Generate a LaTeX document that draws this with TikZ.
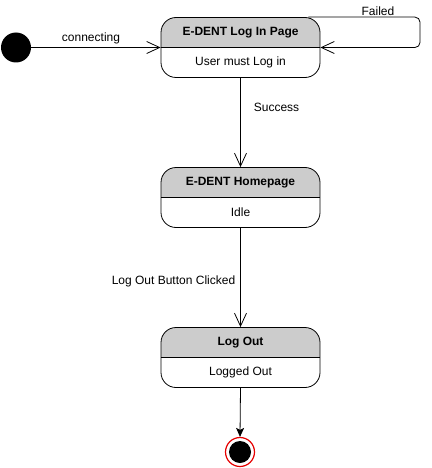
\documentclass[tikz,border=0pt]{standalone}
\usepackage{fontspec}
\setmainfont{Liberation Sans}
\usetikzlibrary{arrows.meta}
\definecolor{hdr}{RGB}{204,204,204}
\definecolor{fred}{RGB}{230,0,0}
\tikzset{
  statebox/.style={draw, rounded corners=15pt, minimum width=159pt, minimum height=60pt,
    inner sep=0pt, line width=0.8pt,
    path picture={
      \fill[hdr, sharp corners] ([yshift=2pt]path picture bounding box.north west) rectangle ([yshift=-30pt]path picture bounding box.north east);
      \draw[sharp corners, line width=0.8pt] ([yshift=-30pt]path picture bounding box.north west) -- ([yshift=-30pt]path picture bounding box.north east);
    }},
  hdrtxt/.style={font=\fontsize{12}{14}\selectfont\bfseries, inner sep=0pt},
  bodytxt/.style={font=\fontsize{12}{14}\selectfont, inner sep=0pt},
  lbl/.style={font=\fontsize{12}{14}\selectfont, inner sep=0pt},
  trans/.style={draw, line width=0.8pt, -{Straight Barb[length=13pt,width=12pt,line width=0.8pt]}},
  endtrans/.style={draw, line width=0.8pt, -{Stealth[length=9pt,width=8pt,inset=2pt]}},
}
\begin{document}
\begin{tikzpicture}[x=1pt,y=-1pt]
\useasboundingbox (0,0) rectangle (431,468);
% initial state
\node[circle, fill=black, minimum size=30pt, inner sep=0pt] (init) at (16,47.5) {};
% states
\node[statebox] (s1) at (240.5,47.5) {};
\node[hdrtxt] (s1h) at (240.5,33) {E-DENT Log In Page};
\node[bodytxt] (s1b) at (240.5,62.5) {User must Log in};
\node[statebox] (s2) at (240.5,197.5) {};
\node[hdrtxt] (s2h) at (240.5,183) {E-DENT Homepage};
\node[bodytxt] (s2b) at (240.5,212.5) {Idle};
\node[statebox] (s3) at (240.5,357.5) {};
\node[hdrtxt] (s3h) at (240.5,343) {Log Out};
\node[bodytxt] (s3b) at (240.5,372.5) {Logged Out};
% final state
\node[circle, draw=fred, line width=1.2pt, fill=white, minimum size=29pt, inner sep=0pt] (fin) at (240,452) {};
\node[circle, fill=black, minimum size=22pt, inner sep=0pt] (finin) at (240,452) {};
% transitions
\draw[trans] (init.east) -- (s1.west);
\node[lbl] (l1) at (91,38) {connecting};
\coordinate (loopR) at (420,47.5);
\draw[trans, rounded corners=5pt] ([xshift=-12pt]s1.north east) -| (loopR) -- (s1.east);
\node[lbl] (l2) at (378,11) {Failed};
\draw[trans] (s1.south) -- (s2.north);
\node[lbl] (l3) at (276.5,107) {Success};
\draw[trans] (s2.south) -- (s3.north);
\node[lbl] (l4) at (173.5,281) {Log Out Button Clicked};
\draw[endtrans] (s3.south) -- (fin.north);
\end{tikzpicture}
\end{document}
